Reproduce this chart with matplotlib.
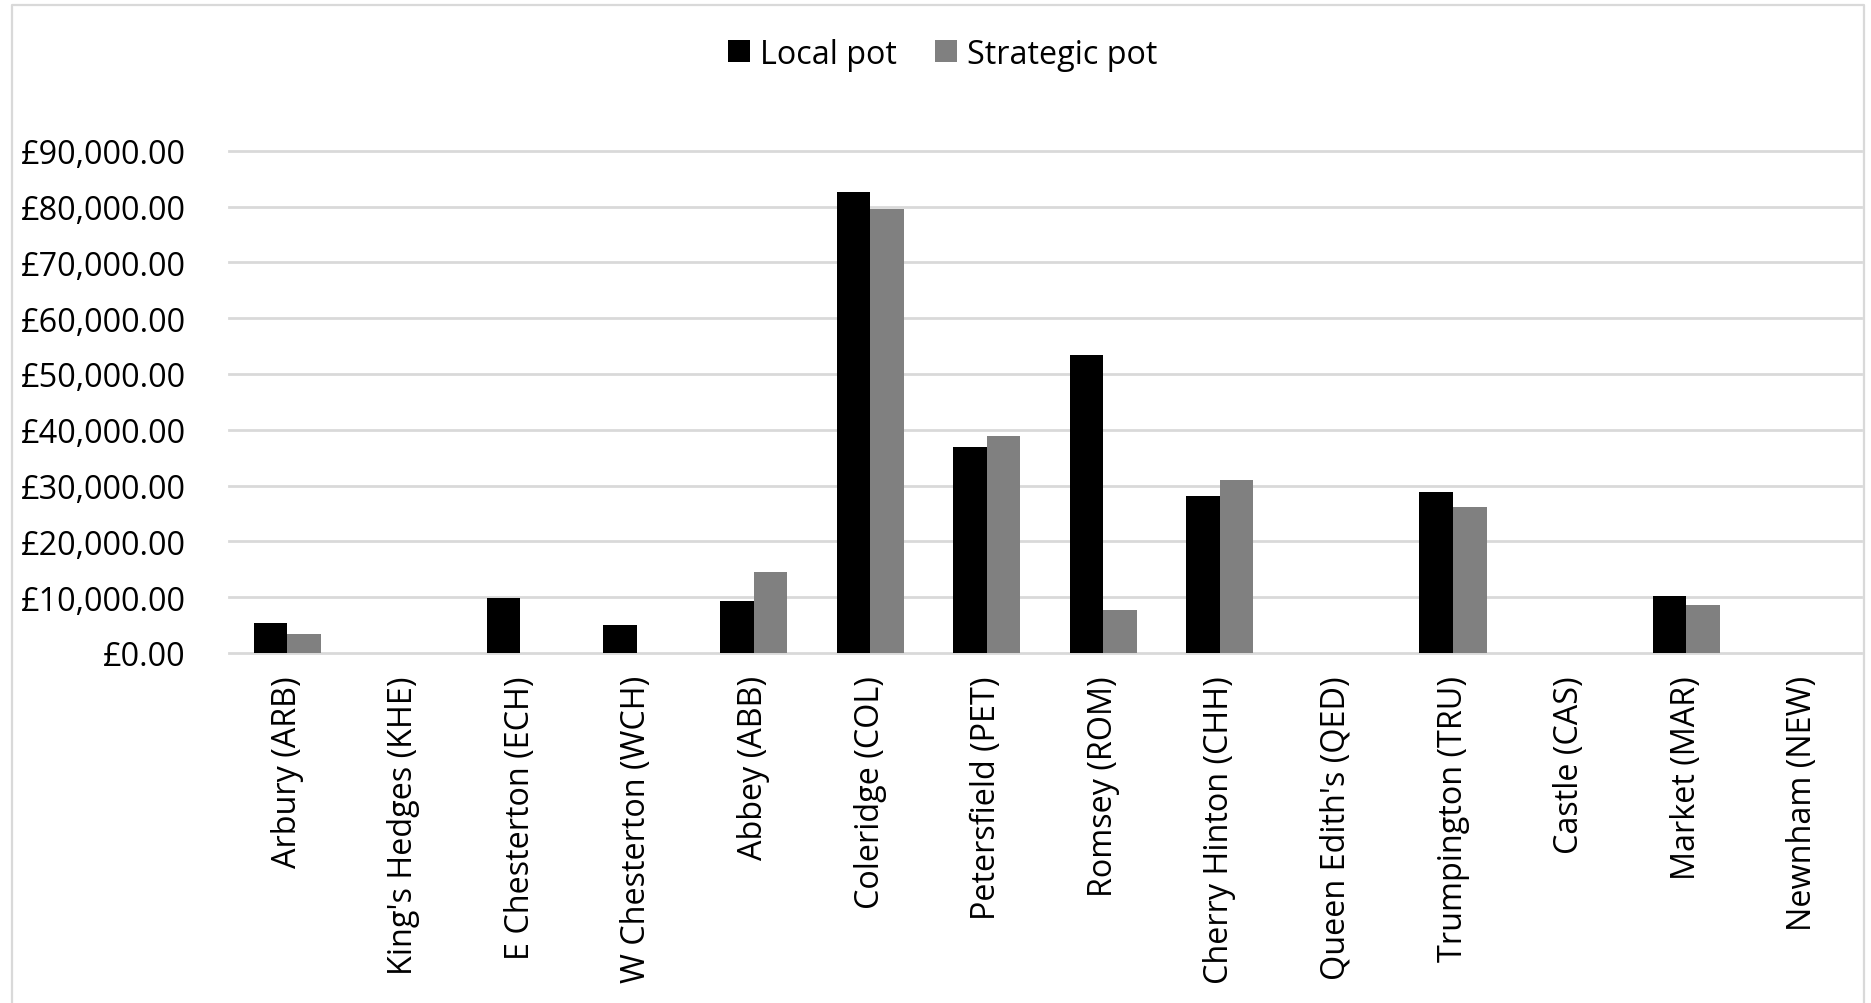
import numpy as np
import matplotlib
matplotlib.use('Agg')
import matplotlib.pyplot as plt
from matplotlib.lines import Line2D
from matplotlib.ticker import FuncFormatter

wards = ['Arbury (ARB)', "King's Hedges (KHE)", 'E Chesterton (ECH)', 'W Chesterton (WCH)',
         'Abbey (ABB)', 'Coleridge (COL)', 'Petersfield (PET)', 'Romsey (ROM)',
         'Cherry Hinton (CHH)', "Queen Edith's (QED)", 'Trumpington (TRU)', 'Castle (CAS)',
         'Market (MAR)', 'Newnham (NEW)']
local_pot = [5450, 0, 9940, 5090, 9400, 82520, 36870, 53340, 28100, 0, 28840, 0, 10150, 0]
strategic_pot = [3470, 0, 0, 0, 14550, 79530, 38900, 7760, 31030, 0, 26140, 0, 8540, 0]
yticks = np.arange(0, 90001, 10000)

plt.rcParams['font.family'] = ['Open Sans', 'DejaVu Sans']
fs = 23.3
grid_col = '#d9d9d9'

fig = plt.figure(figsize=(18.71, 10.04), dpi=100)
ax = fig.add_axes([229/1871, 1-654/1004, (1861-229)/1871, (654-151.7)/1004])

x = np.arange(len(wards))
w = 0.288
ax.bar(x - w/2, local_pot, w, color='black', label='Local pot', zorder=3)
ax.bar(x + w/2, strategic_pot, w, color='#808080', label='Strategic pot', zorder=3)

ax.set_xlim(-0.5, len(wards) - 0.5)
ax.set_ylim(0, 90000)
ax.set_yticks(yticks)
ax.yaxis.set_major_formatter(FuncFormatter(lambda v, p: '£{:,.2f}'.format(v)))
for v in yticks:
    ax.axhline(v, color=grid_col, lw=2, zorder=1, clip_on=False)

ax.set_xticks(x)
ax.set_xticklabels(wards, rotation=90, va='top', ha='center')
ax.tick_params(axis='x', length=0, pad=16, labelsize=fs)
ax.tick_params(axis='y', length=0, pad=31, labelsize=fs)
for s in ax.spines.values():
    s.set_visible(False)

fig.legend(loc='center', bbox_to_anchor=(943/1871, 1-55/1004), ncol=2, frameon=False,
           fontsize=fs, handlelength=0.67, handleheight=0.67, handletextpad=0.32,
           columnspacing=1.17)

# chart border (bottom edge is cut off in the original)
bx0, bx1, by1 = 12/1871, 1864/1871, 1-6/1004
fig.add_artist(Line2D([bx0, bx0, bx1, bx1], [0, by1, by1, 0], transform=fig.transFigure,
                      color=grid_col, lw=1.6))

fig.savefig('out.png', dpi=100)
